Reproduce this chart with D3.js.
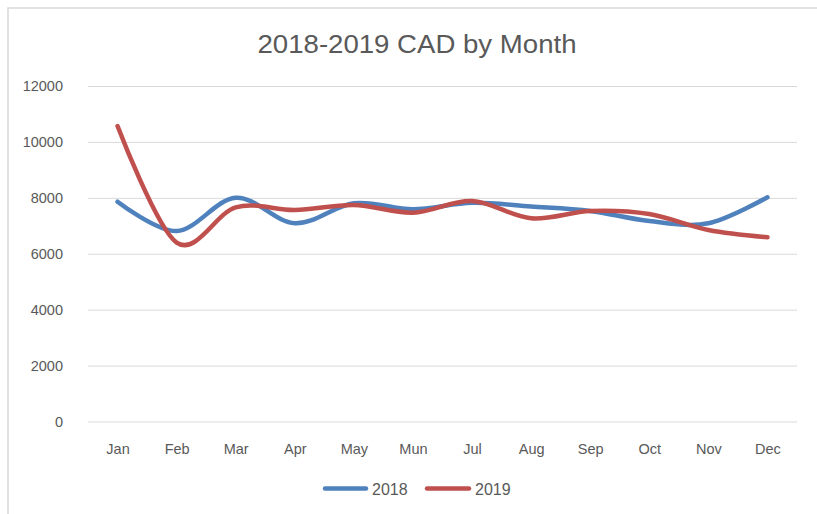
<!DOCTYPE html>
<html>
<head>
<meta charset="utf-8">
<script src="https://cdn.jsdelivr.net/npm/d3@7"></script>
<style>
  html, body { margin: 0; padding: 0; background: #fff; }
  svg { display: block; }
  text { font-family: "Liberation Sans", Arial, sans-serif; fill: #595959; }
</style>
</head>
<body>
<svg id="chart" width="817" height="514"></svg>
<script>
const months = ["Jan","Feb","Mar","Apr","May","Mun","Jul","Aug","Sep","Oct","Nov","Dec"];
const series2018 = [7860, 6810, 8005, 7090, 7805, 7590, 7820, 7690, 7530, 7170, 7090, 8020];
const series2019 = [10570, 6400, 7660, 7565, 7745, 7470, 7885, 7270, 7530, 7420, 6850, 6590];
const yTicks = [0, 2000, 4000, 6000, 8000, 10000, 12000];
const seriesNames = ["2018", "2019"];
const seriesColors = ["#4F81BD", "#C0504D"];
const titleText = "2018-2019 CAD by Month";

const svg = d3.select("#chart");

// chart border
svg.append("rect")
  .attr("x", 8).attr("y", 8).attr("width", 840).attr("height", 540)
  .attr("fill", "none").attr("stroke", "#D9D9D9").attr("stroke-width", 1.5);

const plot = { left: 88, right: 797, top: 86, bottom: 421.5 };

const x = d3.scalePoint().domain(months).range([plot.left, plot.right]).padding(0.5);
const y = d3.scaleLinear().domain([0, 12000]).range([plot.bottom, plot.top]);

// gridlines
const yAxis = d3.axisLeft(y).tickValues(yTicks).tickSize(-(plot.right - plot.left)).tickPadding(25).tickFormat(d3.format("d"));
const gy = svg.append("g").attr("transform", `translate(${plot.left},0)`).call(yAxis);
gy.select(".domain").remove();
gy.selectAll(".tick line").attr("stroke", "#D9D9D9").attr("stroke-width", 1);
gy.selectAll(".tick text").attr("font-size", "14.5px").attr("fill", "#595959")
  .attr("font-family", "'Liberation Sans', Arial, sans-serif");

// x axis labels
const xAxis = d3.axisBottom(x).tickSize(0).tickPadding(22);
const gx = svg.append("g").attr("transform", `translate(0,${plot.bottom})`).call(xAxis);
gx.select(".domain").remove();
gx.selectAll(".tick text").attr("font-size", "14.5px").attr("fill", "#595959")
  .attr("font-family", "'Liberation Sans', Arial, sans-serif");

// lines
const line = d3.line()
  .x((d, i) => x(months[i]))
  .y(d => y(d))
  .curve(d3.curveCardinal.tension(0));

[series2018, series2019].forEach((s, k) => {
  svg.append("path")
    .datum(s)
    .attr("d", line)
    .attr("fill", "none")
    .attr("stroke", seriesColors[k])
    .attr("stroke-width", 4.5)
    .attr("stroke-linecap", "round")
    .attr("stroke-linejoin", "round");
});

// title
svg.append("text")
  .attr("x", 417).attr("y", 53)
  .attr("text-anchor", "middle")
  .attr("font-size", "26px")
  .attr("textLength", 319)
  .attr("lengthAdjust", "spacingAndGlyphs")
  .text(titleText);

// legend
const legendItems = [{ x1: 325, x2: 366, tx: 372 }, { x1: 427, x2: 469, tx: 475 }];
legendItems.forEach((it, k) => {
  svg.append("line")
    .attr("x1", it.x1).attr("x2", it.x2).attr("y1", 488.5).attr("y2", 488.5)
    .attr("stroke", seriesColors[k]).attr("stroke-width", 4.5).attr("stroke-linecap", "round");
  svg.append("text")
    .attr("x", it.tx).attr("y", 494.5)
    .attr("font-size", "16px")
    .text(seriesNames[k]);
});
</script>
</body>
</html>
